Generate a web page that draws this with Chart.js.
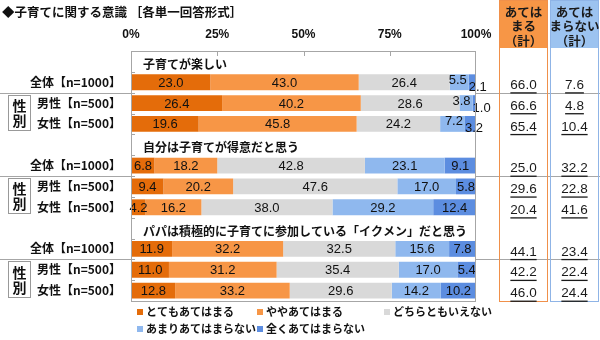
<!DOCTYPE html>
<html><head><meta charset="utf-8">
<script src="https://cdn.jsdelivr.net/npm/chart.js@4/dist/chart.umd.min.js"></script>
<style>html,body{margin:0;padding:0;background:#fff;}#wrap{width:600px;height:340px;position:relative;}</style>
</head><body><div id="wrap"><canvas id="c" width="600" height="340"></canvas></div>
<script>
const chartTitle = '◆子育てに関する意識 ［各単一回答形式］';
const rowLabels = ['', '全体【n=1000】', '男性【n=500】', '女性【n=500】',
                   '', '全体【n=1000】', '男性【n=500】', '女性【n=500】',
                   '', '全体【n=1000】', '男性【n=500】', '女性【n=500】'];
const sectionTitles = ['子育てが楽しい', '自分は子育てが得意だと思う', 'パパは積極的に子育てに参加している「イクメン」だと思う'];
const groupLabel = ['性', '別'];
const seriesNames = ['とてもあてはまる', 'ややあてはまる', 'どちらともいえない', 'あまりあてはまらない', '全くあてはまらない'];
const veryAgree    = [null, 23.0, 26.4, 19.6, null, 6.8, 9.4, 4.2, null, 11.9, 11.0, 12.8];
const someAgree    = [null, 43.0, 40.2, 45.8, null, 18.2, 20.2, 16.2, null, 32.2, 31.2, 33.2];
const neutral      = [null, 26.4, 28.6, 24.2, null, 42.8, 47.6, 38.0, null, 32.5, 35.4, 29.6];
const someDisagree = [null, 5.5, 3.8, 7.2, null, 23.1, 17.0, 29.2, null, 15.6, 17.0, 14.2];
const veryDisagree = [null, 2.1, 1.0, 3.2, null, 9.1, 5.8, 12.4, null, 7.8, 5.4, 10.2];
const agreeTotal    = [null, 66.0, 66.6, 65.4, null, 25.0, 29.6, 20.4, null, 44.1, 42.2, 46.0];
const disagreeTotal = [null, 7.6, 4.8, 10.4, null, 32.2, 22.8, 41.6, null, 23.4, 22.4, 24.4];
const totalHeaders = [['あては', 'まる', '（計）'], ['あては', 'まらない', '（計）']];
const xTickStep = 25;

const colors = ['#E46C0A', '#F79646', '#D9D9D9', '#8FB8EE', '#5C8DE0'];
const JP = '"Noto Sans CJK JP", "Noto Sans", sans-serif';
const NUM = '"Liberation Sans", Arial, sans-serif';

const seriesData = [veryAgree, someAgree, neutral, someDisagree, veryDisagree];

const labelPlugin = {
  id: 'barLabels',
  afterDatasetsDraw(chart) {
    const ctx = chart.ctx;
    ctx.save();
    ctx.font = '13px ' + NUM;
    ctx.fillStyle = '#111';
    ctx.textBaseline = 'middle';
    chart.data.datasets.forEach((ds, di) => {
      const meta = chart.getDatasetMeta(di);
      meta.data.forEach((bar, i) => {
        const v = ds.data[i];
        if (v == null) return;
        const p = bar.getProps(['x', 'base', 'y'], true);
        const left = Math.min(p.x, p.base), right = Math.max(p.x, p.base);
        let tx = (left + right) / 2, ty = p.y + 1, align = 'center';
        if (veryDisagree[i] < 4) {
          if (di === 3) { tx = right - 2; align = 'right'; ty = p.y - 2; }
          if (di === 4) { tx = left; align = 'left'; ty = p.y + 5; }
        }
        ctx.textAlign = align;
        ctx.fillText(v.toFixed(1), tx, ty);
      });
    });
    ctx.restore();
  }
};

const decoPlugin = {
  id: 'deco',
  afterDraw(chart) {
    const ctx = chart.ctx;
    const ca = chart.chartArea;
    const xs = chart.scales.x, ys = chart.scales.y;
    const slot = (ys.getPixelForValue(1) - ys.getPixelForValue(0));
    ctx.save();
    // title
    ctx.fillStyle = '#111';
    ctx.font = 'bold 12.5px ' + JP;
    ctx.textBaseline = 'middle';
    ctx.textAlign = 'left';
    ctx.fillText(chartTitle, 2, 12);

    // frame
    ctx.strokeStyle = '#A6A6A6';
    ctx.lineWidth = 1;
    ctx.strokeRect(Math.round(ca.left) + 0.5, Math.round(ca.top) + 0.5, Math.round(ca.right - ca.left) - 1, Math.round(ca.bottom - ca.top));
    // inner ticks
    ctx.beginPath();
    for (let v = xTickStep; v < 100; v += xTickStep) {
      const px = Math.round(xs.getPixelForValue(v)) + 0.5;
      ctx.moveTo(px, ca.top); ctx.lineTo(px, ca.top + 5);
    }
    for (let i = 1; i < rowLabels.length; i++) {
      const py = Math.round(ys.getPixelForValue(i) - slot / 2) + 0.5;
      ctx.moveTo(ca.left, py); ctx.lineTo(ca.left + 4, py);
    }
    ctx.stroke();

    // section titles
    ctx.fillStyle = '#111';
    ctx.font = 'bold 12px ' + JP;
    ctx.textAlign = 'left';
    sectionTitles.forEach((t, s) => {
      const py = ys.getPixelForValue(s * 4);
      ctx.fillText(t, ca.left + 12, py + 3);
    });

    // separators and group boxes
    ctx.strokeStyle = '#A6A6A6';
    for (let s = 0; s < 3; s++) {
      const sepY = Math.round(ys.getPixelForValue(s * 4 + 1) + slot / 2) + 0.5;
      ctx.beginPath();
      ctx.moveTo(0, sepY); ctx.lineTo(ca.left, sepY);
      ctx.moveTo(ca.right, sepY); ctx.lineTo(600, sepY);
      ctx.stroke();
      const top = sepY + 2;
      const bot = Math.round(ys.getPixelForValue(s * 4 + 3) + 6) + 0.5;
      ctx.strokeStyle = '#999';
      ctx.strokeRect(8.5, top, 22, bot - top);
      ctx.strokeStyle = '#A6A6A6';
      ctx.font = 'bold 14px ' + JP;
      ctx.textAlign = 'center';
      ctx.fillStyle = '#111';
      const mid = (top + bot) / 2;
      ctx.fillText(groupLabel[0], 19.5, mid - 7);
      ctx.fillText(groupLabel[1], 19.5, mid + 8);
    }

    // total boxes
    const boxes = [
      {x: 499.5, w: 48, fill: '#F79646', stroke: '#F0904A', vals: agreeTotal},
      {x: 550.5, w: 48, fill: '#9CC3F0', stroke: '#8FB4E6', vals: disagreeTotal}
    ];
    const boxBottom = Math.round(ca.bottom) + 0.5;
    boxes.forEach((b, bi) => {
      ctx.fillStyle = b.fill;
      ctx.fillRect(b.x, 0, b.w, 48);
      ctx.strokeStyle = b.stroke;
      ctx.lineWidth = 1;
      ctx.strokeRect(b.x, 0.5, b.w, boxBottom - 0.5);
      ctx.fillStyle = '#1a1a1a';
      ctx.font = 'bold 12.5px ' + JP;
      ctx.textAlign = 'center';
      const cx = b.x + b.w / 2;
      totalHeaders[bi].forEach((line, li) => {
        ctx.fillText(line, cx, 12 + li * 14.5);
      });
      ctx.font = '13.5px ' + NUM;
      b.vals.forEach((v, i) => {
        if (v == null) return;
        const py = ys.getPixelForValue(i) + 3;
        const txt = v.toFixed(1);
        ctx.fillText(txt, cx, py);
        const w = ctx.measureText(txt).width;
        ctx.fillRect(cx - w / 2, py + 7, w, 1.3);
      });
    });

    // legend
    const legendPos = [[137, 312], [257, 312], [384, 312], [137, 329], [257, 329]];
    ctx.font = 'bold 11px ' + JP;
    ctx.textAlign = 'left';
    seriesNames.forEach((n, i) => {
      const [lx, ly] = legendPos[i];
      ctx.fillStyle = colors[i];
      ctx.fillRect(lx, ly - 3, 6, 6);
      ctx.fillStyle = '#111';
      ctx.fillText(n, lx + 9, ly);
    });
    ctx.restore();
  }
};

new Chart(document.getElementById('c'), {
  type: 'bar',
  data: {
    labels: rowLabels,
    datasets: seriesNames.map((n, i) => ({
      label: n,
      data: seriesData[i],
      backgroundColor: colors[i],
      borderWidth: 0,
      barPercentage: 0.76,
      categoryPercentage: 1.0
    }))
  },
  options: {
    indexAxis: 'y',
    responsive: false,
    animation: false,
    devicePixelRatio: 1,
    layout: {padding: {left: 0, right: 124, top: 0, bottom: 39}},
    plugins: {legend: {display: false}, tooltip: {enabled: false}},
    scales: {
      x: {
        type: 'linear', position: 'top', stacked: true, min: 0, max: 100,
        afterFit: (s) => { s.height = 51; },
        ticks: {stepSize: xTickStep, callback: (v) => v + '%', color: '#111',
                font: {family: NUM, size: 12, weight: 'bold'}, padding: 9, maxRotation: 0},
        grid: {drawOnChartArea: false, drawTicks: false},
        border: {display: false}
      },
      y: {
        type: 'category', stacked: true,
        afterFit: (s) => { s.width = 131; },
        ticks: {autoSkip: false, color: '#111', padding: 10,
                font: {family: '"Noto Sans CJK JP", sans-serif', size: 12, weight: 'bold'}},
        grid: {display: false, drawTicks: false},
        border: {display: false}
      }
    }
  },
  plugins: [labelPlugin, decoPlugin]
});
</script></body></html>
